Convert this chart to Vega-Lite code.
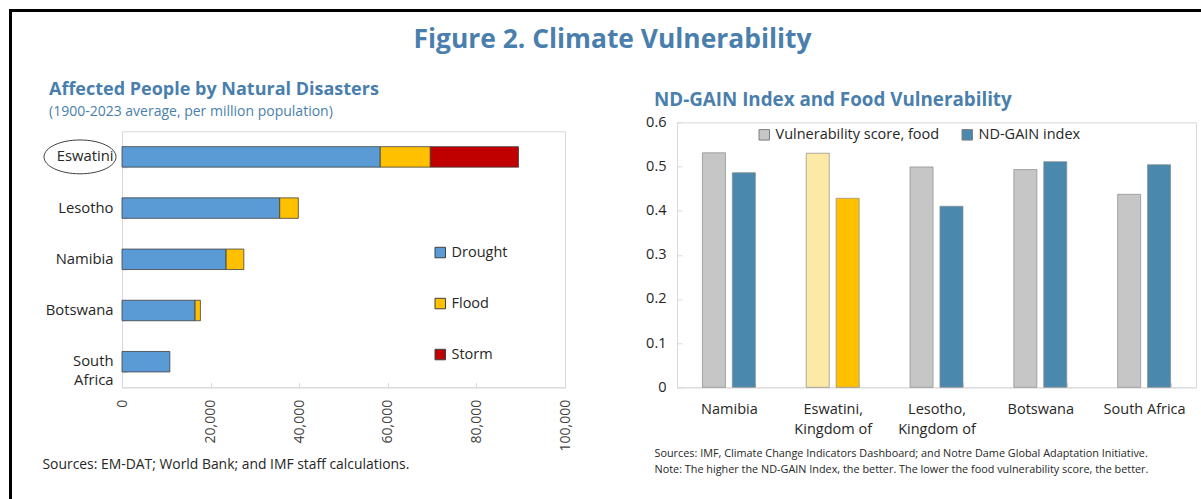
{
  "$schema": "https://vega.github.io/schema/vega-lite/v6.json",
  "padding": {"left": 9, "top": 9, "right": 0, "bottom": 0},
  "background": "white",
  "config": {
    "font": "Open Sans",
    "view": {"stroke": "#d9d9d9", "strokeWidth": 1},
    "axis": {"grid": false, "domainColor": "#d9d9d9", "tickColor": "#d9d9d9", "labelColor": "#262626", "labelFont": "Open Sans"},
    "legend": {"labelFont": "Open Sans"}
  },
  "spacing": 0,
  "vconcat": [
    {
      "width": 1190,
      "height": 1,
      "data": {"values": []},
      "mark": "rule",
      "encoding": {},
      "view": {"stroke": "black", "strokeWidth": 2}
    },
    {
      "spacing": 29,
      "hconcat": [
        {
          "width": 1,
          "height": 487,
          "data": {"values": []},
          "mark": "rule",
          "encoding": {},
          "view": {"stroke": "black", "strokeWidth": 2}
        },
        {
          "spacing": 20,
          "vconcat": [
            {
              "width": 1077,
              "height": 1,
              "data": {"values": []},
              "mark": "rule",
              "encoding": {},
              "view": {"stroke": null},
              "title": {
                "text": "Figure 2. Climate Vulnerability",
                "orient": "bottom",
                "frame": "group",
                "font": "Open Sans",
                "fontSize": 26.4,
                "fontWeight": "bold",
                "color": "#4a7fad",
                "anchor": "middle",
                "dx": -48,
                "offset": 13
              }
            },
            {
              "spacing": 72,
              "center": true,
              "resolve": {"scale": {"color": "independent"}, "legend": {"color": "independent"}},
              "hconcat": [
                {
                  "width": 443,
                  "height": 256,
                  "title": {
                    "text": ["", "Affected People by Natural Disasters"],
                    "lineHeight": 6,
                    "subtitle": "(1900-2023 average, per million population)",
                    "anchor": "start",
                    "frame": "group",
                    "dx": -73,
                    "font": "Open Sans",
                    "fontSize": 18,
                    "fontWeight": "bold",
                    "color": "#4a7fad",
                    "subtitleFont": "Open Sans",
                    "subtitleFontSize": 14,
                    "subtitleColor": "#4a7fad",
                    "subtitlePadding": 6,
                    "offset": 4
                  },
                  "data": {
                    "values": [
                      {"country": "Eswatini", "hazard": "Drought", "people": 58300},
                      {"country": "Eswatini", "hazard": "Flood", "people": 11300},
                      {"country": "Eswatini", "hazard": "Storm", "people": 19900},
                      {"country": "Lesotho", "hazard": "Drought", "people": 35600},
                      {"country": "Lesotho", "hazard": "Flood", "people": 4200},
                      {"country": "Namibia", "hazard": "Drought", "people": 23500},
                      {"country": "Namibia", "hazard": "Flood", "people": 4000},
                      {"country": "Botswana", "hazard": "Drought", "people": 16500},
                      {"country": "Botswana", "hazard": "Flood", "people": 1200},
                      {"country": "South Africa", "hazard": "Drought", "people": 10800}
                    ]
                  },
                  "layer": [
                    {
                      "mark": {"type": "bar", "stroke": "#404040", "strokeWidth": 0.8},
                      "encoding": {
                        "y": {
                          "field": "country",
                          "type": "nominal",
                          "sort": ["Eswatini", "Lesotho", "Namibia", "Botswana", "South Africa"],
                          "scale": {"paddingInner": 0.6, "paddingOuter": 0.3},
                          "axis": {
                            "title": null,
                            "labelFontSize": 14.8,
                            "labelPadding": 14,
                            "tickBand": "extent",
                            "tickSize": -5,
                            "labelExpr": "datum.label === 'South Africa' ? ['South', 'Africa'] : datum.label",
                            "labelLineHeight": 19
                          }
                        },
                        "x": {
                          "field": "people",
                          "type": "quantitative",
                          "stack": "zero",
                          "scale": {"domain": [0, 100000]},
                          "axis": {
                            "values": [0, 20000, 40000, 60000, 80000, 100000],
                            "labelExpr": "format(datum.value, ',')",
                            "labelAngle": -90,
                            "labelFontSize": 14,
                            "labelColor": "#404040",
                            "labelPadding": 17,
                            "tickSize": -5,
                            "title": ["Sources: EM-DAT; World Bank; and IMF staff calculations.", ""],
                            "titleFont": "Open Sans",
                            "titleFontSize": 13.9,
                            "titleFontWeight": "normal",
                            "titleColor": "#262626",
                            "titleAnchor": "start",
                            "titleAlign": "left",
                            "titleBaseline": "top",
                            "titleLineHeight": 10,
                            "titleX": -80,
                            "titleY": 70
                          }
                        },
                        "color": {
                          "field": "hazard",
                          "type": "nominal",
                          "scale": {"domain": ["Drought", "Flood", "Storm"], "range": ["#5b9bd5", "#ffc000", "#c00000"]},
                          "legend": {
                            "orient": "none",
                            "legendX": 311,
                            "legendY": 114,
                            "direction": "vertical",
                            "title": null,
                            "symbolType": "square",
                            "symbolSize": 110,
                            "symbolStrokeColor": "#404040",
                            "symbolStrokeWidth": 1,
                            "labelFontSize": 14.5,
                            "labelColor": "#262626",
                            "labelOffset": 4,
                            "rowPadding": 35
                          }
                        }
                      }
                    },
                    {
                      "transform": [{"filter": "datum.country === 'Eswatini' && datum.hazard === 'Drought'"}],
                      "mark": {
                        "type": "point",
                        "shape": "M -1 0 C -1 -0.26 -0.552 -0.47 0 -0.47 C 0.552 -0.47 1 -0.26 1 0 C 1 0.26 0.552 0.47 0 0.47 C -0.552 0.47 -1 0.26 -1 0 Z",
                        "size": 5184,
                        "filled": false,
                        "stroke": "#404040",
                        "strokeWidth": 1,
                        "opacity": 1,
                        "xOffset": -42,
                        "clip": false
                      },
                      "encoding": {
                        "y": {"field": "country", "type": "nominal", "sort": ["Eswatini", "Lesotho", "Namibia", "Botswana", "South Africa"]},
                        "x": {"datum": 0, "type": "quantitative"}
                      }
                    }
                  ]
                },
                {
                  "width": 519,
                  "height": 265,
                  "title": {
                    "text": "ND-GAIN Index and Food Vulnerability",
                    "font": "Open Sans",
                    "fontSize": 18.8,
                    "fontWeight": "bold",
                    "color": "#4a7fad",
                    "anchor": "start",
                    "frame": "group",
                    "dx": -23,
                    "offset": 5
                  },
                  "data": {
                    "values": [
                      {"country": "Namibia", "series": "Vulnerability score, food", "score": 0.531},
                      {"country": "Namibia", "series": "ND-GAIN index", "score": 0.486},
                      {"country": "Eswatini, Kingdom of", "series": "Vulnerability score, food", "score": 0.530},
                      {"country": "Eswatini, Kingdom of", "series": "ND-GAIN index", "score": 0.428},
                      {"country": "Lesotho, Kingdom of", "series": "Vulnerability score, food", "score": 0.499},
                      {"country": "Lesotho, Kingdom of", "series": "ND-GAIN index", "score": 0.410},
                      {"country": "Botswana", "series": "Vulnerability score, food", "score": 0.493},
                      {"country": "Botswana", "series": "ND-GAIN index", "score": 0.511},
                      {"country": "South Africa", "series": "Vulnerability score, food", "score": 0.437},
                      {"country": "South Africa", "series": "ND-GAIN index", "score": 0.504}
                    ]
                  },
                  "mark": {"type": "bar", "stroke": "#8a8a8a", "strokeWidth": 0.7},
                  "encoding": {
                    "x": {
                      "field": "country",
                      "type": "nominal",
                      "sort": ["Namibia", "Eswatini, Kingdom of", "Lesotho, Kingdom of", "Botswana", "South Africa"],
                      "scale": {"paddingInner": 0.49, "paddingOuter": 0.245},
                      "axis": {
                        "labelAngle": 0,
                        "labelFontSize": 14.5,
                        "labelPadding": 20,
                        "labelBaseline": "top",
                        "labelLineHeight": 20,
                        "labelExpr": "indexof(datum.label, ', ') > 0 ? [slice(datum.label, 0, indexof(datum.label, ', ') + 1), slice(datum.label, indexof(datum.label, ', ') + 2)] : datum.label",
                        "tickBand": "extent",
                        "tickSize": -5,
                        "title": [
                          "Sources: IMF, Climate Change Indicators Dashboard; and Notre Dame Global Adaptation Initiative.",
                          "Note: The higher the ND-GAIN Index, the better. The lower the food vulnerability score, the better.",
                          ""
                        ],
                        "titleFont": "Open Sans",
                        "titleFontSize": 10.85,
                        "titleFontWeight": "normal",
                        "titleColor": "#262626",
                        "titleAnchor": "start",
                        "titleAlign": "left",
                        "titleBaseline": "top",
                        "titleLineHeight": 16,
                        "titleX": -23,
                        "titleY": 60
                      }
                    },
                    "xOffset": {
                      "field": "series",
                      "type": "nominal",
                      "sort": ["Vulnerability score, food", "ND-GAIN index"],
                      "scale": {"paddingInner": 0.23}
                    },
                    "y": {
                      "field": "score",
                      "type": "quantitative",
                      "scale": {"domain": [0, 0.6]},
                      "axis": {
                        "title": null,
                        "values": [0, 0.1, 0.2, 0.3, 0.4, 0.5, 0.6],
                        "format": ".1~f",
                        "labelFontSize": 14.5,
                        "labelPadding": 16,
                        "tickSize": -5
                      }
                    },
                    "color": {
                      "field": "series",
                      "type": "nominal",
                      "scale": {"domain": ["Vulnerability score, food", "ND-GAIN index"], "range": ["#c6c6c6", "#4a89ad"]},
                      "condition": [
                        {"test": "datum.country === 'Eswatini, Kingdom of' && datum.series === 'ND-GAIN index'", "value": "#ffc000"},
                        {"test": "datum.country === 'Eswatini, Kingdom of' && datum.series === 'Vulnerability score, food'", "value": "#fde9a6"}
                      ],
                      "legend": {
                        "orient": "none",
                        "legendX": 80,
                        "legendY": 5,
                        "direction": "horizontal",
                        "title": null,
                        "symbolType": "square",
                        "symbolSize": 110,
                        "symbolStrokeColor": "#7f7f7f",
                        "symbolStrokeWidth": 1,
                        "labelFontSize": 14.5,
                        "labelColor": "#262626",
                        "labelOffset": 4,
                        "labelLimit": 300,
                        "columnPadding": 20
                      }
                    }
                  }
                }
              ]
            }
          ]
        }
      ]
    }
  ]
}
